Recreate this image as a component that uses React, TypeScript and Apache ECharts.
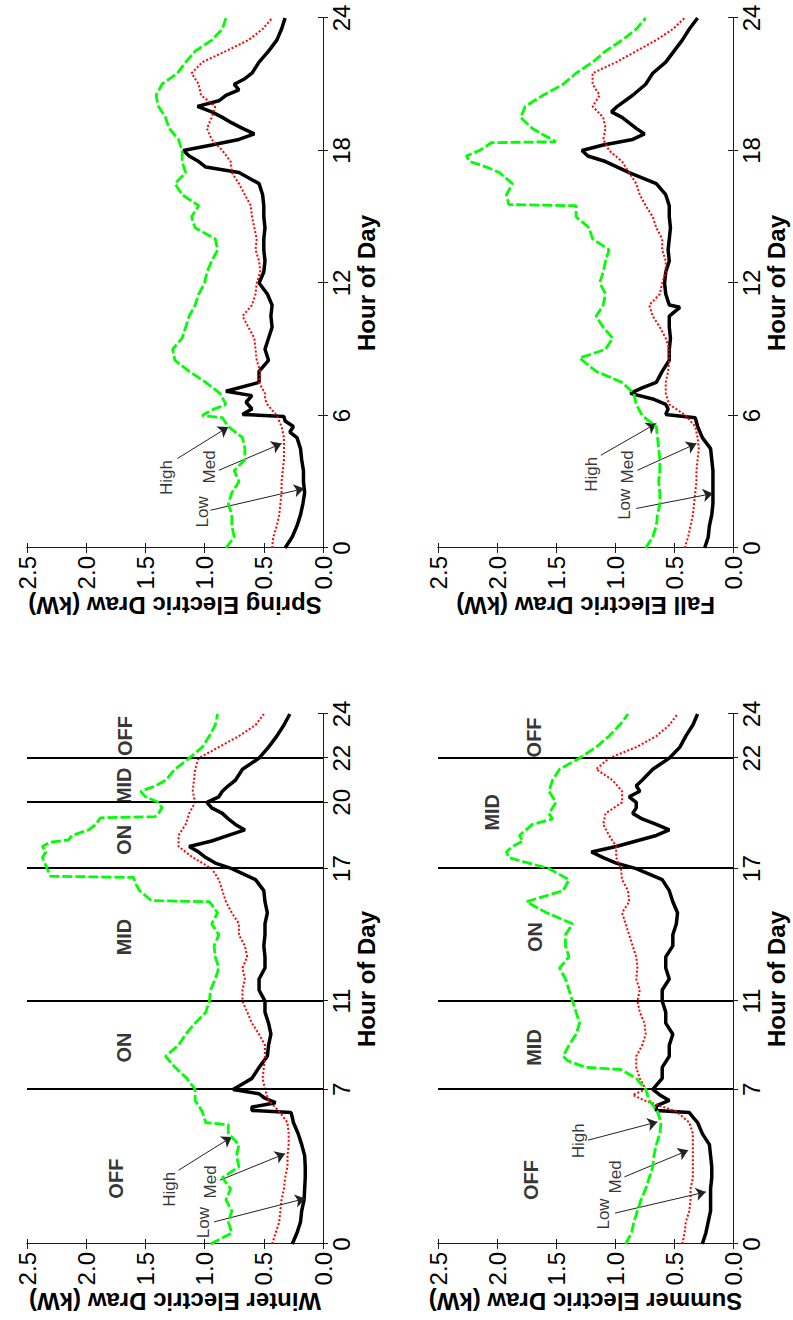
import React, { useEffect, useRef } from 'react';
import * as echarts from 'echarts';

const FONT = '"Liberation Sans", Arial, Helvetica, sans-serif';

// ---------- tick labels / boundaries ----------
const touHourTicks = [0, 7, 11, 17, 20, 22, 24];
const summerHourTicks = [0, 7, 11, 17, 22, 24];
const plainHourTicks = [0, 6, 12, 18, 24];
const winterBounds = [7, 11, 17, 20, 22];
const summerBounds = [7, 11, 17, 22];

// ---------- period labels [hour, kW, text] ----------
const winterPeriods: [number, number, string][] = [
  [2.96, 1.75, 'OFF'], [8.9, 1.68, 'ON'], [13.9, 1.68, 'MID'], [18.3, 1.68, 'ON'], [20.75, 1.68, 'MID'], [23.0, 1.67, 'OFF'],
];
const summerPeriods: [number, number, string][] = [
  [2.9, 1.71, 'OFF'], [8.9, 1.69, 'MID'], [13.9, 1.68, 'ON'], [19.55, 2.04, 'MID'], [22.94, 1.69, 'OFF'],
];

// ---------- annotation labels ----------
const noteText = ['High', 'Med', 'Low'];
const winterNoteAt = [[2.48, 1.30], [2.81, 0.95], [0.97, 1.01]];
const winterArrowFrom = [[3.34, 1.22], [2.89, 0.87], [1.0, 0.92]];
const winterArrowTo = [[4.85, 0.77], [4.09, 0.32], [2.06, 0.15]];
const springNoteAt = [[3.19, 1.32], [3.67, 0.96], [1.64, 1.02]];
const springArrowFrom = [[4.05, 1.23], [3.52, 0.88], [1.71, 0.95]];
const springArrowTo = [[5.48, 0.80], [4.73, 0.35], [2.69, 0.16]];
const summerNoteAt = [[4.67, 1.31], [3.04, 1.0], [1.36, 1.10]];
const summerArrowFrom = [[4.7, 1.23], [3.04, 0.92], [1.4, 1.0]];
const summerArrowTo = [[5.53, 0.64], [4.24, 0.38], [2.36, 0.23]];
const fallNoteAt = [[3.34, 1.20], [3.67, 0.89], [1.98, 0.92]];
const fallArrowFrom = [[4.2, 1.12], [3.52, 0.81], [1.79, 0.82]];
const fallArrowTo = [[5.64, 0.65], [4.73, 0.31], [2.47, 0.17]];

// ---------- series [hour, kW] ----------
const winterLow = [[0,0.26],[0.5,0.22],[1,0.19],[1.5,0.18],[2,0.16],[2.5,0.155],[3,0.15],[3.5,0.15],[4,0.155],[4.5,0.18],[5,0.21],[5.25,0.23],[5.5,0.25],[5.75,0.26],[5.95,0.27],[6.05,0.6],[6.2,0.6],[6.4,0.4],[6.6,0.49],[6.8,0.54],[7,0.76],[7.25,0.68],[7.5,0.6],[8,0.54],[8.5,0.47],[9,0.46],[9.5,0.44],[10,0.46],[10.5,0.49],[11,0.49],[11.5,0.54],[12,0.54],[12.5,0.49],[13,0.49],[13.5,0.5],[14,0.49],[14.5,0.49],[15,0.47],[15.5,0.49],[16,0.5],[16.5,0.57],[17,0.77],[17.25,0.91],[17.5,0.99],[17.75,1.05],[18,1.13],[18.25,0.94],[18.5,0.8],[18.75,0.66],[19,0.74],[19.25,0.8],[19.5,0.85],[19.75,0.94],[20,0.98],[20.25,0.88],[20.5,0.85],[20.75,0.8],[21,0.74],[21.5,0.68],[22,0.54],[22.5,0.46],[23,0.39],[23.5,0.33],[24,0.28]];
const winterMed = [[0,0.43],[0.5,0.4],[1,0.37],[1.5,0.36],[2,0.35],[2.5,0.33],[3,0.32],[3.5,0.3],[4,0.3],[4.5,0.29],[5,0.29],[5.5,0.3],[6,0.37],[6.5,0.46],[7,0.49],[7.5,0.51],[8,0.5],[8.5,0.49],[9,0.49],[9.5,0.54],[10,0.6],[10.5,0.64],[11,0.68],[11.5,0.68],[12,0.66],[12.5,0.68],[13,0.64],[13.5,0.66],[14,0.71],[14.5,0.71],[15,0.77],[15.5,0.82],[16,0.85],[16.5,0.88],[17,0.94],[17.5,1.1],[18,1.22],[18.5,1.22],[19,1.16],[19.5,1.13],[20,1.08],[20.5,1.1],[21,1.09],[21.5,1.08],[22,1.05],[22.5,0.88],[23,0.71],[23.5,0.57],[24,0.5]];
const winterHigh = [[0,0.95],[0.5,0.77],[1,0.8],[1.5,0.77],[2,0.82],[2.5,0.78],[3,0.85],[3.5,0.71],[4,0.73],[4.5,0.71],[5,0.8],[5.4,0.8],[5.5,0.99],[6,1.02],[6.5,1.08],[7,1.08],[7.5,1.15],[8,1.25],[8.5,1.33],[9,1.22],[9.5,1.16],[10,1.08],[10.5,0.99],[11,0.96],[11.5,0.95],[12,0.91],[12.5,0.88],[13,0.91],[13.5,0.92],[14,0.88],[14.5,0.94],[15,0.89],[15.5,0.96],[15.55,1.45],[16,1.55],[16.3,1.58],[16.6,1.6],[16.65,2.3],[17,2.33],[17.5,2.37],[17.75,2.34],[18,2.37],[18.2,2.3],[18.3,2.15],[18.5,2.12],[18.75,1.98],[19,1.92],[19.3,1.88],[19.35,1.42],[19.5,1.39],[19.75,1.36],[20,1.39],[20.25,1.5],[20.5,1.54],[20.75,1.41],[21,1.33],[21.5,1.25],[22,1.13],[22.5,1.02],[23,0.96],[23.5,0.91],[24,0.89]];

const springLow = [[0,0.32],[0.5,0.26],[1,0.22],[1.5,0.19],[2,0.17],[2.5,0.155],[3,0.165],[3.5,0.165],[4,0.18],[4.5,0.19],[5,0.22],[5.25,0.28],[5.5,0.25],[5.75,0.32],[5.95,0.33],[6.05,0.68],[6.3,0.6],[6.6,0.65],[6.9,0.6],[7.1,0.82],[7.5,0.54],[8,0.54],[8.5,0.46],[9,0.49],[9.5,0.46],[10,0.43],[10.5,0.44],[11,0.43],[11.5,0.47],[12,0.54],[12.5,0.5],[13,0.49],[13.5,0.5],[14,0.5],[14.5,0.49],[15,0.5],[15.5,0.5],[16,0.51],[16.5,0.54],[17,0.71],[17.25,0.99],[17.5,1.05],[17.75,1.13],[18,1.18],[18.25,0.94],[18.5,0.71],[18.75,0.58],[19,0.68],[19.25,0.77],[19.5,0.85],[19.75,0.94],[20,1.06],[20.25,0.88],[20.5,0.82],[20.75,0.71],[21,0.75],[21.25,0.66],[21.5,0.6],[22,0.54],[22.5,0.46],[23,0.39],[23.5,0.35],[24,0.32]];
const springMed = [[0,0.43],[0.5,0.42],[1,0.39],[1.5,0.37],[2,0.36],[2.5,0.35],[3,0.35],[3.5,0.34],[4,0.33],[4.5,0.33],[5,0.33],[5.5,0.35],[6,0.39],[6.25,0.43],[6.5,0.47],[6.75,0.49],[7,0.49],[7.5,0.54],[8,0.53],[8.5,0.56],[9,0.57],[9.5,0.58],[10,0.63],[10.5,0.68],[11,0.6],[11.5,0.57],[12,0.56],[12.5,0.53],[13,0.54],[13.5,0.57],[14,0.56],[14.5,0.58],[15,0.6],[15.5,0.61],[16,0.66],[16.5,0.71],[17,0.77],[17.5,0.78],[18,0.85],[18.5,0.94],[19,0.98],[19.5,0.94],[20,0.91],[20.5,1.03],[21,1.05],[21.5,1.11],[22,1.02],[22.5,0.82],[23,0.63],[23.5,0.51],[24,0.43]];
const springHigh = [[0,0.82],[0.5,0.75],[1,0.77],[1.5,0.77],[2,0.8],[2.5,0.77],[3,0.71],[3.5,0.75],[4,0.66],[4.5,0.66],[5,0.68],[5.5,0.8],[5.9,0.85],[6,1.02],[6.25,0.94],[6.5,0.82],[7,0.87],[7.5,0.99],[8,1.13],[8.5,1.25],[9,1.27],[9.5,1.19],[10,1.16],[10.5,1.13],[11,1.08],[11.5,1.05],[12,1.0],[12.5,0.98],[13,0.94],[13.5,0.89],[14,0.91],[14.5,1.08],[15,1.11],[15.5,1.05],[16,1.19],[16.5,1.25],[17,1.16],[17.5,1.19],[18,1.19],[18.5,1.22],[19,1.3],[19.5,1.33],[20,1.39],[20.5,1.41],[21,1.36],[21.5,1.23],[22,1.16],[22.5,1.08],[23,0.94],[23.5,0.85],[24,0.82]];

const summerLow = [[0,0.26],[0.5,0.23],[1,0.21],[1.5,0.19],[2,0.19],[2.5,0.19],[3,0.18],[3.5,0.18],[4,0.19],[4.5,0.2],[5,0.26],[5.5,0.3],[5.75,0.34],[5.95,0.37],[6.05,0.65],[6.25,0.65],[6.5,0.54],[6.75,0.62],[7,0.68],[7.5,0.6],[8,0.6],[8.5,0.54],[9,0.54],[9.5,0.51],[10,0.57],[10.5,0.57],[11,0.6],[11.5,0.6],[12,0.54],[12.5,0.57],[13,0.57],[13.5,0.51],[14,0.51],[14.5,0.48],[15,0.47],[15.5,0.51],[16,0.54],[16.5,0.6],[17,0.82],[17.25,0.99],[17.5,1.1],[17.75,1.2],[18,0.99],[18.25,0.82],[18.5,0.65],[18.75,0.54],[19,0.65],[19.25,0.77],[19.5,0.85],[19.75,0.82],[20,0.82],[20.25,0.88],[20.5,0.79],[20.75,0.82],[21,0.77],[21.5,0.68],[22,0.54],[22.5,0.45],[23,0.4],[23.5,0.34],[24,0.3]];
const summerMed = [[0,0.43],[0.5,0.41],[1,0.4],[1.5,0.37],[2,0.36],[2.5,0.36],[3,0.34],[3.5,0.34],[4,0.34],[4.5,0.34],[5,0.34],[5.5,0.37],[6,0.48],[6.5,0.75],[6.75,0.85],[7,0.74],[7.5,0.79],[8,0.82],[8.5,0.82],[9,0.77],[9.5,0.74],[10,0.75],[10.5,0.79],[11,0.81],[11.5,0.79],[12,0.82],[12.5,0.81],[13,0.82],[13.5,0.85],[14,0.88],[14.5,0.91],[15,0.94],[15.5,0.88],[16,0.89],[16.5,0.94],[17,0.95],[17.5,0.99],[18,0.99],[18.5,1.05],[19,1.1],[19.5,1.08],[20,0.94],[20.5,0.94],[21,1.02],[21.5,1.16],[22,1.05],[22.5,0.82],[23,0.65],[23.5,0.54],[24,0.47]];
const summerHigh = [[0,0.91],[0.5,0.86],[1,0.84],[1.5,0.81],[2,0.78],[2.5,0.74],[3,0.71],[3.5,0.68],[4,0.67],[4.5,0.65],[5,0.62],[5.5,0.61],[6,0.64],[6.5,0.71],[7,0.74],[7.5,0.82],[7.9,0.95],[8.0,1.25],[8.3,1.4],[8.5,1.44],[9,1.39],[9.5,1.33],[10,1.3],[10.5,1.33],[11,1.36],[11.5,1.39],[12,1.42],[12.5,1.47],[13,1.39],[13.5,1.42],[14,1.42],[14.5,1.36],[15,1.58],[15.5,1.75],[16,1.44],[16.5,1.39],[17,1.56],[17.25,1.73],[17.5,1.9],[17.75,1.92],[18,1.87],[18.25,1.78],[18.5,1.81],[19,1.7],[19.25,1.53],[19.5,1.56],[20,1.5],[20.5,1.56],[21,1.53],[21.5,1.47],[22,1.3],[22.5,1.16],[23,1.05],[23.5,0.96],[24,0.89]];

const fallLow = [[0,0.24],[0.5,0.21],[1,0.2],[1.5,0.18],[2,0.17],[2.5,0.17],[3,0.17],[3.5,0.17],[4,0.18],[4.5,0.19],[5,0.26],[5.5,0.3],[5.9,0.32],[6.05,0.57],[6.3,0.55],[6.5,0.57],[6.75,0.68],[7,0.87],[7.25,0.77],[7.5,0.65],[8,0.6],[8.5,0.54],[9,0.54],[9.5,0.53],[10,0.54],[10.5,0.54],[10.9,0.45],[11,0.54],[11.5,0.57],[12,0.58],[12.5,0.57],[13,0.54],[13.5,0.55],[14,0.54],[14.5,0.53],[15,0.54],[15.5,0.54],[16,0.57],[16.5,0.65],[17,0.88],[17.5,1.08],[17.75,1.23],[18,1.28],[18.25,1.1],[18.5,0.85],[18.75,0.75],[19,0.82],[19.5,0.94],[19.75,1.03],[20,0.98],[20.5,0.85],[21,0.74],[21.5,0.68],[22,0.57],[22.5,0.5],[23,0.43],[23.5,0.37],[24,0.3]];
const fallMed = [[0,0.41],[0.5,0.38],[1,0.36],[1.5,0.34],[2,0.33],[2.5,0.32],[3,0.31],[3.5,0.31],[4,0.3],[4.5,0.29],[5,0.3],[5.5,0.32],[6,0.4],[6.5,0.54],[7,0.57],[7.5,0.57],[8,0.55],[8.5,0.54],[9,0.54],[9.5,0.57],[10,0.62],[10.5,0.68],[11,0.71],[11.5,0.62],[12,0.6],[12.5,0.57],[13,0.57],[13.5,0.6],[14,0.6],[14.5,0.65],[15,0.68],[15.5,0.74],[16,0.79],[16.5,0.82],[17,0.88],[17.5,0.94],[18,1.05],[18.5,1.1],[19,1.08],[19.5,1.1],[20,1.19],[20.5,1.13],[21,1.19],[21.5,1.19],[22,0.99],[22.5,0.82],[23,0.65],[23.5,0.51],[24,0.41]];
const fallHigh = [[0,0.74],[0.5,0.68],[1,0.65],[1.5,0.64],[2,0.62],[2.5,0.62],[3,0.63],[3.5,0.62],[4,0.62],[4.5,0.63],[5,0.64],[5.5,0.65],[6,0.77],[6.5,0.82],[7,0.84],[7.5,0.94],[8,1.16],[8.6,1.3],[9,1.08],[9.5,1.02],[10,1.1],[10.5,1.16],[11,1.1],[11.5,1.08],[12,1.13],[12.5,1.1],[13,1.08],[13.5,1.05],[14,1.19],[14.5,1.22],[15,1.33],[15.5,1.33],[15.55,1.9],[16,1.92],[16.5,1.87],[17,1.98],[17.25,2.09],[17.5,2.23],[17.75,2.26],[18,2.15],[18.2,2.09],[18.35,2.05],[18.4,1.5],[18.75,1.62],[19,1.7],[19.5,1.8],[20,1.76],[20.5,1.61],[21,1.44],[21.5,1.33],[22,1.19],[22.5,1.08],[23,0.94],[23.5,0.82],[24,0.74]];

type Panel = {
  title: string;
  box: number[];
  hourTicks: number[];
  bounds: number[];
  periods: [number, number, string][];
  noteAt: number[][];
  arrowFrom: number[][];
  arrowTo: number[][];
  low: number[][];
  med: number[][];
  high: number[][];
};

const panels: Panel[] = [
  { title: 'Winter Electric Draw (kW)', box: [76, 27, 530, 296], hourTicks: touHourTicks, bounds: winterBounds, periods: winterPeriods,
    noteAt: winterNoteAt, arrowFrom: winterArrowFrom, arrowTo: winterArrowTo, low: winterLow, med: winterMed, high: winterHigh },
  { title: 'Spring Electric Draw (kW)', box: [772, 27, 530, 296], hourTicks: plainHourTicks, bounds: [], periods: [],
    noteAt: springNoteAt, arrowFrom: springArrowFrom, arrowTo: springArrowTo, low: springLow, med: springMed, high: springHigh },
  { title: 'Summer Electric Draw (kW)', box: [76, 438, 530, 295], hourTicks: summerHourTicks, bounds: summerBounds, periods: summerPeriods,
    noteAt: summerNoteAt, arrowFrom: summerArrowFrom, arrowTo: summerArrowTo, low: summerLow, med: summerMed, high: summerHigh },
  { title: 'Fall Electric Draw (kW)', box: [772, 438, 530, 295], hourTicks: plainHourTicks, bounds: [], periods: [],
    noteAt: fallNoteAt, arrowFrom: fallArrowFrom, arrowTo: fallArrowTo, low: fallLow, med: fallMed, high: fallHigh },
];

function buildOption() {
  const grid: any[] = [];
  const xAxis: any[] = [];
  const yAxis: any[] = [];
  const series: any[] = [];
  const frame = { show: true, lineStyle: { color: '#1a1a1a', width: 1 } };
  const tickStyle = { color: '#1a1a1a', width: 1 };
  panels.forEach((p, i) => {
    grid.push({ left: p.box[0], top: p.box[1], width: p.box[2], height: p.box[3], show: false, containLabel: false, outerBoundsMode: 'none' });
    xAxis.push({
      type: 'value', gridIndex: i, min: 0, max: 24, position: 'bottom',
      name: 'Hour of Day', nameLocation: 'middle', nameGap: 31,
      nameTextStyle: { fontFamily: FONT, fontSize: 24, fontWeight: 'bold', color: '#000' },
      axisLine: frame,
      axisTick: { show: true, inside: true, length: 5, customValues: p.hourTicks, lineStyle: tickStyle },
      axisLabel: { show: true, customValues: p.hourTicks, margin: 6, fontFamily: FONT, fontSize: 24, color: '#000' },
      splitLine: { show: false },
    });
    xAxis.push({
      type: 'value', gridIndex: i, min: 0, max: 24, position: 'top',
      axisLine: frame,
      axisTick: { show: true, inside: true, length: 5, customValues: p.hourTicks, lineStyle: tickStyle },
      axisLabel: { show: false }, splitLine: { show: false },
    });
    yAxis.push({
      type: 'value', gridIndex: i, min: 0, max: 2.5, interval: 0.5, position: 'left',
      name: p.title, nameLocation: 'middle', nameGap: 44,
      nameTextStyle: { fontFamily: FONT, fontSize: 24, fontWeight: 'bold', color: '#000' },
      axisLine: frame,
      axisTick: { show: true, inside: true, length: 5, lineStyle: tickStyle },
      axisLabel: { show: true, margin: 8, fontFamily: FONT, fontSize: 24, color: '#000', formatter: (v: number) => v.toFixed(1) },
      splitLine: { show: false },
    });
    yAxis.push({
      type: 'value', gridIndex: i, min: 0, max: 2.5, interval: 0.5, position: 'right',
      axisLine: frame,
      axisTick: { show: true, inside: true, length: 5, lineStyle: tickStyle },
      axisLabel: { show: false }, splitLine: { show: false },
    });
    const xi = 2 * i;
    const yi = 2 * i;
    const base = { xAxisIndex: xi, yAxisIndex: yi, silent: true, symbol: 'none', showSymbol: false, animation: false };
    series.push({ ...base, type: 'line', name: 'Low', data: p.low, lineStyle: { color: '#000000', width: 3.5 }, z: 3 });
    series.push({ ...base, type: 'line', name: 'Med', data: p.med, lineStyle: { color: '#ff0000', width: 2, type: [2, 2] }, z: 4 });
    series.push({ ...base, type: 'line', name: 'High', data: p.high, lineStyle: { color: '#00ff00', width: 2.8, type: [10, 3] }, z: 5 });
    if (p.periods.length) {
      series.push({
        type: 'scatter', xAxisIndex: xi, yAxisIndex: yi, silent: true, z: 6,
        data: p.periods.map((d) => [d[0], d[1], d[2]]),
        symbolSize: 1, itemStyle: { color: 'rgba(0,0,0,0)' },
        label: { show: true, position: 'inside', formatter: (q: any) => q.value[2], fontFamily: FONT, fontWeight: 'bold', fontSize: 20, color: '#000' },
        markLine: {
          silent: true, symbol: ['none', 'none'], label: { show: false }, animation: false,
          lineStyle: { color: '#000', width: 2, type: 'solid' },
          emphasis: { disabled: true },
          data: p.bounds.map((b) => ({ xAxis: b })),
        },
      });
    }
    series.push({
      type: 'scatter', xAxisIndex: xi, yAxisIndex: yi, silent: true, z: 7,
      data: p.noteAt.map((d, k) => [d[0], d[1], noteText[k]]),
      symbolSize: 1, itemStyle: { color: 'rgba(0,0,0,0)' },
      label: { show: true, position: 'inside', formatter: (q: any) => q.value[2], fontFamily: FONT, fontSize: 17, color: '#000' },
      markLine: {
        silent: true, symbol: ['none', 'arrow'], symbolSize: 10, label: { show: false }, animation: false,
        lineStyle: { color: '#222', width: 1, type: 'solid' },
        emphasis: { disabled: true },
        data: p.arrowFrom.map((f, k) => [{ coord: f }, { coord: p.arrowTo[k] }]),
      },
    });
  });
  return { animation: false, backgroundColor: '#ffffff', grid, xAxis, yAxis, series };
}

export default function App() {
  const ref = useRef<HTMLDivElement>(null);
  useEffect(() => {
    if (!ref.current) return;
    const chart = echarts.init(ref.current, null, { renderer: 'svg', width: 1320, height: 793 });
    chart.setOption(buildOption() as any);
    return () => chart.dispose();
  }, []);
  return (
    <div style={{ position: 'fixed', left: 0, top: 0, width: 793, height: 1320, overflow: 'hidden', background: '#fff' }}>
      <div
        ref={ref}
        style={{
          position: 'absolute', left: 0, top: 0, width: 1320, height: 793,
          transformOrigin: '0 0', transform: 'translateY(1320px) rotate(-90deg)',
        }}
      />
    </div>
  );
}
